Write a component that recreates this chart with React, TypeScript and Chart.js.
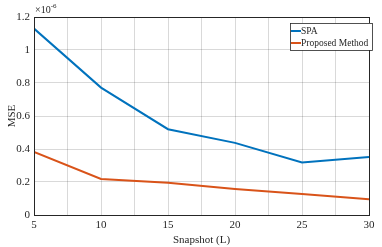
import React, { useEffect, useRef } from "react";
import { Chart, registerables } from "chart.js";
Chart.register(...registerables);

const snapshots = [5, 10, 15, 20, 25, 30];
const spaMSE = [1.13, 0.772, 0.52, 0.437, 0.318, 0.352]; // x 1e-6
const proposedMSE = [0.383, 0.218, 0.195, 0.157, 0.128, 0.096]; // x 1e-6
const seriesNames = ["SPA", "Proposed Method"];
const seriesColors = ["#0072BD", "#D95319"];
const yTicks = [0, 0.2, 0.4, 0.6, 0.8, 1, 1.2];
const FONT = "'Liberation Serif', 'DejaVu Serif', serif";

const framePlugin = {
  id: "frame",
  afterDraw(chart: any) {
    const { ctx, chartArea: a } = chart;
    ctx.save();
    ctx.strokeStyle = "#262626";
    ctx.lineWidth = 1;
    ctx.strokeRect(a.left + 0.5, a.top + 0.5, a.right - a.left, a.bottom - a.top);
    // exponent label
    ctx.fillStyle = "#262626";
    ctx.textBaseline = "alphabetic";
    ctx.textAlign = "left";
    ctx.font = `10px ${FONT}`;
    ctx.fillText("×10", a.left + 1, a.top - 4);
    const w = ctx.measureText("×10").width;
    ctx.font = `7px ${FONT}`;
    ctx.fillText("-6", a.left + 1 + w, a.top - 9);
    // legend
    const lx = 290, ly = 23, lw = 82, lh = 27;
    ctx.fillStyle = "#fff";
    ctx.fillRect(lx, ly, lw, lh);
    ctx.strokeStyle = "#262626";
    ctx.lineWidth = 0.8;
    ctx.strokeRect(lx + 0.5, ly + 0.5, lw, lh);
    ctx.font = `9.5px ${FONT}`;
    ctx.textBaseline = "middle";
    seriesNames.forEach((n, i) => {
      const y = ly + 8 + i * 12;
      ctx.strokeStyle = seriesColors[i];
      ctx.lineWidth = 2;
      ctx.beginPath();
      ctx.moveTo(lx + 1, y);
      ctx.lineTo(lx + 11, y);
      ctx.stroke();
      ctx.fillStyle = "#262626";
      ctx.fillText(n, lx + 11, y);
    });
    ctx.restore();
  },
};

export default function App() {
  const ref = useRef<HTMLCanvasElement>(null);
  useEffect(() => {
    if (!ref.current) return;
    const chart = new Chart(ref.current, {
      type: "line",
      data: {
        datasets: [spaMSE, proposedMSE].map((vals, i) => ({
          label: seriesNames[i],
          data: snapshots.map((x, j) => ({ x, y: vals[j] })),
          borderColor: seriesColors[i],
          backgroundColor: seriesColors[i],
          borderWidth: 2,
          pointRadius: 0,
          tension: 0,
        })),
      },
      options: {
        animation: false,
        responsive: false,
        layout: { padding: { top: 17, right: 13, left: 6, bottom: 0 } },
        plugins: { legend: { display: false }, tooltip: { enabled: false } },
        scales: {
          x: {
            type: "linear",
            min: 5,
            max: 30,
            afterBuildTicks: (s: any) => {
              const t = [];
              for (let v = 5; v <= 30; v += 2.5) t.push({ value: v });
              s.ticks = t;
            },
            afterFit: (s: any) => { s.height = 32; },
            ticks: {
              autoSkip: false,
              maxRotation: 0,
              padding: 4,
              color: "#262626",
              font: { family: FONT, size: 11 },
              callback: (v: any) => (Number(v) % 5 === 0 ? String(v) : ""),
            },
            grid: { color: "rgba(0,0,0,0.15)", drawTicks: false },
            border: { color: "#262626" },
            title: {
              display: true,
              text: "Snapshot (L)",
              color: "#262626",
              font: { family: FONT, size: 11 },
              padding: { top: 0, bottom: 0 },
            },
          },
          y: {
            min: 0,
            max: 1.2,
            afterBuildTicks: (s: any) => { s.ticks = yTicks.map((v) => ({ value: v })); },
            afterFit: (s: any) => { s.width = 28; },
            ticks: {
              padding: 4,
              color: "#262626",
              font: { family: FONT, size: 11 },
              callback: (v: any) => String(Number(v)),
            },
            grid: { color: "rgba(0,0,0,0.15)", drawTicks: false },
            border: { color: "#262626" },
            title: {
              display: true,
              text: "MSE",
              color: "#262626",
              font: { family: FONT, size: 11 },
              padding: { top: 0, bottom: 0 },
            },
          },
        },
      },
      plugins: [framePlugin],
    });
    return () => chart.destroy();
  }, []);
  return (
    <div style={{ position: "fixed", left: 0, top: 0, width: 382, height: 247, background: "#fff" }}>
      <canvas ref={ref} width={382} height={247} style={{ width: 382, height: 247 }} />
    </div>
  );
}
